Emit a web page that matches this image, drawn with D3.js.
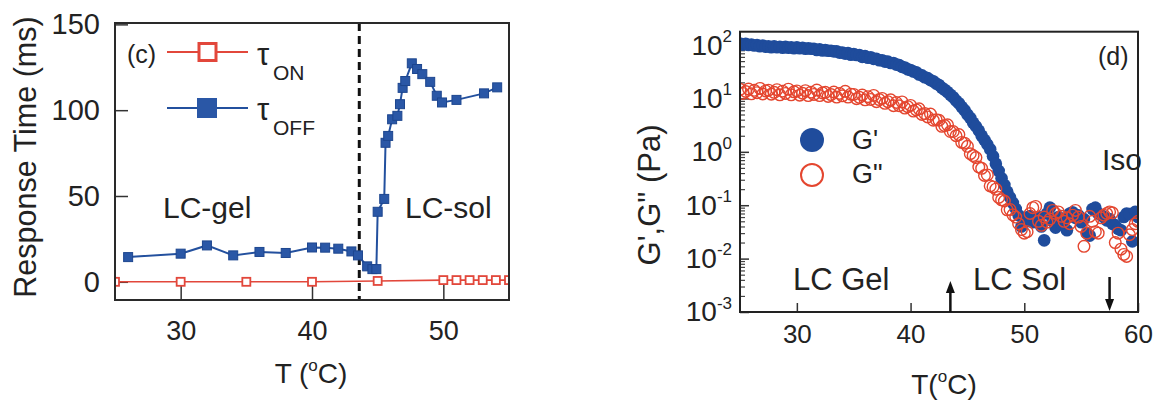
<!DOCTYPE html>
<html>
<head>
<meta charset="utf-8">
<script src="https://cdn.jsdelivr.net/npm/d3@7"></script>
<style>
body { margin: 0; background: #fff; }
text { font-family: "Liberation Sans", Arial, sans-serif; fill: #222; }
</style>
</head>
<body>
<script>
// ---- panel (c): response times ----
const onTemps = [25, 30, 35, 40, 45, 50, 51, 52, 53, 54, 55];
const onTimes = [0, 0, 0, 0, 0.5, 1, 1, 1, 1, 1, 1];

const offTemps = [26, 30, 32, 34, 36, 38, 40, 41, 42, 43, 43.5, 44.2, 44.6, 44.9, 45.0, 45.5, 45.6, 45.8,
    46.1, 46.5, 46.7, 46.9, 47.1, 47.6, 48.0, 48.4, 49.0, 49.5, 49.9, 51.0, 53.1, 54.1];
const offTimes = [14.4, 16.4, 21.2, 15.4, 17.4, 16.8, 20, 19.9, 19.3, 17.7, 15.4, 9, 7.4, 7.4, 40.8, 48.3, 81, 85,
    94.7, 96.7, 103.5, 113, 117, 127.3, 124, 121, 116.5, 108.4, 104.5, 106, 109.8, 113.3];

const responseTicks = [0, 50, 100, 150];
const tempTicksC = [30, 40, 50];
const gelSolT = 43.6;

// ---- panel (d): G' and G'' ----
const rheoTemps = [
    25, 25.25, 25.5, 25.75, 26, 26.25, 26.5, 26.75, 27, 27.25,
    27.5, 27.75, 28, 28.25, 28.5, 28.75, 29, 29.25, 29.5, 29.75,
    30, 30.25, 30.5, 30.75, 31, 31.25, 31.5, 31.75, 32, 32.25,
    32.5, 32.75, 33, 33.25, 33.5, 33.75, 34, 34.25, 34.5, 34.75,
    35, 35.25, 35.5, 35.75, 36, 36.25, 36.5, 36.75, 37, 37.25,
    37.5, 37.75, 38, 38.25, 38.5, 38.75, 39, 39.25, 39.5, 39.75,
    40, 40.25, 40.5, 40.75, 41, 41.25, 41.5, 41.75, 42, 42.25,
    42.5, 42.75, 43, 43.25, 43.5, 43.75, 44, 44.25, 44.5, 44.75,
    45, 45.25, 45.5, 45.75, 46, 46.25, 46.5, 46.75, 47, 47.25,
    47.5, 47.75, 48, 48.25, 48.5, 48.75, 49,
    49.25, 49.5, 49.75, 50, 50.25, 50.5, 50.75, 51, 51.25, 51.5,
    51.75, 52, 52.25, 52.5, 52.75, 53, 53.25, 53.5, 53.75, 54,
    54.25, 54.5, 54.75, 55, 55.25, 55.5, 55.75, 56, 56.25, 56.5,
    56.75, 57, 57.25, 57.5, 57.75, 58, 58.25, 58.5, 58.75, 59,
    59.25, 59.5, 59.75, 60
];
const storageMod = [
    107, 102, 105, 100, 102, 98, 100, 95, 98, 93,
    95, 91, 95, 91, 93, 89, 93, 89, 91, 87,
    91, 87, 89, 85, 87, 85, 85, 81, 83, 79,
    81, 78, 78, 76, 76, 72, 72, 69, 71, 66,
    68, 65, 65, 60, 62, 58, 59, 55, 55, 52,
    52, 49, 49, 46, 46, 43, 42, 39, 38, 35,
    34, 32, 31, 28, 27, 25, 24, 22, 21, 19,
    17.8, 15.8, 14.5, 13.2, 11.7, 10.5, 9.1, 8.1, 6.9, 6.0,
    5.0, 4.3, 3.5, 3.0, 2.5, 2.0, 1.66, 1.38, 1.12, 0.83,
    0.60, 0.44, 0.32, 0.24, 0.18, 0.14, 0.11,
    0.085, 0.065, 0.040, 0.058, 0.050, 0.063, 0.048, 0.055, 0.060, 0.040,
    0.022, 0.070, 0.090, 0.050, 0.038, 0.060, 0.045, 0.052, 0.034, 0.070,
    0.074, 0.058, 0.065, 0.048, 0.055, 0.030, 0.027, 0.085, 0.090, 0.070,
    0.066, 0.060, 0.052, 0.055, 0.045, 0.042, 0.036, 0.034, 0.060, 0.070,
    0.068, 0.021, 0.075, 0.060
];
const lossMod = [
    14.8, 12.4, 13.5, 15.0, 12.2, 14.2, 12.8, 15.4, 12.1, 13.8,
    14.3, 12.0, 13.0, 14.6, 11.7, 13.7, 12.4, 14.9, 11.7, 13.3,
    13.8, 11.5, 12.5, 14.0, 11.3, 13.1, 11.9, 14.4, 11.3, 12.7,
    13.0, 10.9, 11.8, 13.2, 10.6, 12.4, 11.2, 13.6, 10.6, 12.0,
    11.9, 9.9, 10.5, 11.6, 9.4, 10.8, 9.6, 11.4, 8.7, 9.5,
    10.0, 8.1, 8.7, 9.4, 7.3, 8.4, 7.3, 8.6, 6.6, 7.0,
    7.4, 5.8, 6.1, 6.4, 5.0, 5.2, 4.5, 5.1, 3.9, 4.0,
    3.9, 3.0, 3.1, 3.2, 2.4, 2.4, 2.0, 2.1, 1.5, 1.45,
    1.27, 0.92, 0.85, 0.78, 0.52, 0.49, 0.36, 0.37, 0.23, 0.22,
    0.20, 0.14, 0.126, 0.12, 0.082, 0.083, 0.066,
    0.060, 0.045, 0.035, 0.030, 0.032, 0.070, 0.090, 0.095, 0.050, 0.042,
    0.060, 0.048, 0.055, 0.080, 0.070, 0.075, 0.062, 0.050, 0.058, 0.045,
    0.065, 0.080, 0.060, 0.040, 0.017, 0.030, 0.062, 0.050, 0.032, 0.030,
    0.058, 0.065, 0.070, 0.075, 0.072, 0.020, 0.030, 0.015, 0.012, 0.011,
    0.028, 0.035, 0.045, 0.050
];

const tempTicksD = [30, 40, 50, 60];
const decadeTicks = [1e-3, 1e-2, 1e-1, 1, 10, 100];
const decadeExp = ["-3", "-2", "-1", "0", "1", "2"];
const isoT = 57.5;

const red = "#e2473b", blue = "#23509e";

const svg = d3.select("body").append("svg")
    .attr("width", 1157)
    .attr("height", 400);

// ======== left panel ========
{
    const L = 115, R = 509, T = 23, B = 300;
    const x = d3.scaleLinear().domain([25, 55]).range([L, R]);
    const y = d3.scaleLinear().domain([-10.6, 150.8]).range([B, T]);

    svg.append("clipPath").attr("id", "clipC")
        .append("rect").attr("x", L).attr("y", T).attr("width", R - L).attr("height", B - T);

    const xAxis = svg.append("g")
        .attr("transform", `translate(0,${B})`)
        .call(d3.axisBottom(x).tickValues(tempTicksC).tickSize(-15).tickPadding(21));
    const yAxis = svg.append("g")
        .attr("transform", `translate(${L},0)`)
        .call(d3.axisLeft(y).tickValues(responseTicks).tickSize(-13).tickPadding(15));

    for(const ax of [xAxis, yAxis])
    {
        ax.select(".domain").remove();
        ax.selectAll(".tick line").attr("stroke", "#333").attr("stroke-width", 1.5);
        ax.selectAll(".tick text").attr("fill", "#222").style("font-family", "Liberation Sans, Arial, sans-serif");
    }
    xAxis.selectAll(".tick text").attr("font-size", 27);
    yAxis.selectAll(".tick text").attr("font-size", 29);

    // gel-sol boundary
    svg.append("line")
        .attr("x1", x(gelSolT)).attr("x2", x(gelSolT))
        .attr("y1", T).attr("y2", B)
        .attr("stroke", "#111").attr("stroke-width", 3)
        .attr("stroke-dasharray", "8,5");

    const data = svg.append("g").attr("clip-path", "url(#clipC)");

    const onPts = onTemps.map((t, i) => [t, onTimes[i]]);
    const offPts = offTemps.map((t, i) => [t, offTimes[i]]);
    const line = d3.line().x(d => x(d[0])).y(d => y(d[1]));

    data.append("path").datum(onPts)
        .attr("d", line).attr("fill", "none").attr("stroke", red).attr("stroke-width", 1.6);
    data.append("path").datum(offPts)
        .attr("d", line).attr("fill", "none").attr("stroke", blue).attr("stroke-width", 2);

    data.selectAll("rect.on").data(onPts).join("rect")
        .attr("class", "on")
        .attr("x", d => x(d[0]) - 4).attr("y", d => y(d[1]) - 4)
        .attr("width", 8).attr("height", 8)
        .attr("fill", "#fff").attr("stroke", red).attr("stroke-width", 1.8);

    data.selectAll("rect.off").data(offPts).join("rect")
        .attr("class", "off")
        .attr("x", d => x(d[0]) - 4.5).attr("y", d => y(d[1]) - 4.5)
        .attr("width", 9).attr("height", 9)
        .attr("fill", "#2a57a6").attr("stroke", "#1d468f").attr("stroke-width", 1);

    svg.append("rect")
        .attr("x", L).attr("y", T).attr("width", R - L).attr("height", B - T)
        .attr("fill", "none").attr("stroke", "#2a2a2a").attr("stroke-width", 2);

    // legend
    svg.append("text").attr("x", 127).attr("y", 63).attr("font-size", 25).text("(c)");
    svg.append("line").attr("x1", 167).attr("x2", 248).attr("y1", 52).attr("y2", 52)
        .attr("stroke", red).attr("stroke-width", 2);
    svg.append("rect").attr("x", 199).attr("y", 43.5).attr("width", 17).attr("height", 17)
        .attr("fill", "#fff").attr("stroke", red).attr("stroke-width", 3);
    svg.append("line").attr("x1", 167).attr("x2", 248).attr("y1", 108).attr("y2", 108)
        .attr("stroke", blue).attr("stroke-width", 2);
    svg.append("rect").attr("x", 197).attr("y", 98).attr("width", 20).attr("height", 20)
        .attr("fill", "#2a57a6");

    svg.append("text").attr("x", 257).attr("y", 65).attr("font-size", 31).text("τ");
    svg.append("text").attr("x", 273).attr("y", 80).attr("font-size", 21).text("ON");
    svg.append("text").attr("x", 257).attr("y", 120).attr("font-size", 31).text("τ");
    svg.append("text").attr("x", 273).attr("y", 135).attr("font-size", 21).text("OFF");

    svg.append("text").attr("x", 163).attr("y", 218).attr("font-size", 30).text("LC-gel");
    svg.append("text").attr("x", 405).attr("y", 218).attr("font-size", 30).text("LC-sol");

    svg.append("text")
        .attr("transform", "translate(36,157) rotate(-90)")
        .attr("text-anchor", "middle").attr("font-size", 30.5)
        .text("Response Time (ms)");

    const xt = svg.append("text").attr("x", 311).attr("y", 383)
        .attr("text-anchor", "middle").attr("font-size", 28);
    xt.append("tspan").text("T (");
    xt.append("tspan").attr("font-size", 17).attr("dy", -12).text("o");
    xt.append("tspan").attr("dy", 12).text("C)");
}

// ======== right panel ========
{
    const L = 740, R = 1138, T = 31.7, B = 312;
    const x = d3.scaleLinear().domain([25, 60]).range([L, R]);
    const y = d3.scaleLog().domain([1e-3, 177.8]).range([B, T]);

    svg.append("clipPath").attr("id", "clipD")
        .append("rect").attr("x", L).attr("y", T).attr("width", R - L).attr("height", B - T);

    const xAxis = svg.append("g")
        .attr("transform", `translate(0,${B})`)
        .call(d3.axisBottom(x).tickValues(tempTicksD).tickSize(-9).tickPadding(13));
    xAxis.select(".domain").remove();
    xAxis.selectAll(".tick line").attr("stroke", "#333").attr("stroke-width", 1.5);
    xAxis.selectAll(".tick text").attr("font-size", 26).attr("fill", "#222")
        .style("font-family", "Liberation Sans, Arial, sans-serif");

    // minor log ticks
    const minor = svg.append("g")
        .attr("transform", `translate(${L},0)`)
        .call(d3.axisLeft(y).tickValues(y.ticks().filter(v => !decadeTicks.includes(v))).tickSize(-5).tickFormat(""));
    minor.select(".domain").remove();
    minor.selectAll(".tick line").attr("stroke", "#444").attr("stroke-width", 1.2);

    const yAxis = svg.append("g")
        .attr("transform", `translate(${L},0)`)
        .call(d3.axisLeft(y).tickValues(decadeTicks).tickSize(-9).tickPadding(8));
    yAxis.select(".domain").remove();
    yAxis.selectAll(".tick line").attr("stroke", "#333").attr("stroke-width", 1.5);
    yAxis.selectAll(".tick text")
        .attr("font-size", 28).attr("fill", "#222")
        .style("font-family", "Liberation Sans, Arial, sans-serif")
        .text("10")
        .append("tspan")
        .attr("font-size", 17).attr("dy", "-0.75em")
        .text((d, i) => decadeExp[i]);

    const data = svg.append("g").attr("clip-path", "url(#clipD)");

    const gp = rheoTemps.map((t, i) => [t, storageMod[i]]);
    const gpp = rheoTemps.map((t, i) => [t, lossMod[i]]);

    data.selectAll("circle.gp").data(gp).join("circle")
        .attr("class", "gp")
        .attr("cx", d => x(d[0])).attr("cy", d => y(d[1])).attr("r", 6.3)
        .attr("fill", "#1f4c9c");

    data.selectAll("circle.gpp").data(gpp).join("circle")
        .attr("class", "gpp")
        .attr("cx", d => x(d[0])).attr("cy", d => y(d[1])).attr("r", 5.8)
        .attr("fill", "none").attr("stroke", "#e4462f").attr("stroke-width", 1.4);

    svg.append("rect")
        .attr("x", L).attr("y", T).attr("width", R - L).attr("height", B - T)
        .attr("fill", "none").attr("stroke", "#222").attr("stroke-width", 2);

    // transition arrows
    const arrow = (t, y1, y2) => {
        const ax = x(t);
        const dir = y2 < y1 ? -1 : 1;
        svg.append("line").attr("x1", ax).attr("x2", ax).attr("y1", y1).attr("y2", y2 - dir * 8)
            .attr("stroke", "#111").attr("stroke-width", 2.5);
        svg.append("path")
            .attr("d", `M${ax},${y2} L${ax - 4.5},${y2 - dir * 12} L${ax + 4.5},${y2 - dir * 12} Z`)
            .attr("fill", "#111");
    };
    arrow(gelSolT - 0.1, B, 281);
    arrow(isoT, 277, B - 1);

    svg.append("text").attr("x", 1098).attr("y", 65).attr("font-size", 25).text("(d)");
    svg.append("text").attr("x", 1102).attr("y", 170).attr("font-size", 30).text("Iso");
    svg.append("text").attr("x", 793).attr("y", 290).attr("font-size", 31).text("LC Gel");
    svg.append("text").attr("x", 973).attr("y", 290).attr("font-size", 31).text("LC Sol");

    // legend
    svg.append("circle").attr("cx", 812).attr("cy", 140).attr("r", 12).attr("fill", "#1f4c9c");
    svg.append("circle").attr("cx", 812).attr("cy", 175).attr("r", 11)
        .attr("fill", "none").attr("stroke", "#e4462f").attr("stroke-width", 2);
    svg.append("text").attr("x", 852).attr("y", 149).attr("font-size", 27).text("G'");
    svg.append("text").attr("x", 852).attr("y", 183).attr("font-size", 27).text("G\"");

    svg.append("text")
        .attr("transform", "translate(660,195) rotate(-90)")
        .attr("text-anchor", "middle").attr("font-size", 31)
        .text("G',G\" (Pa)");

    const xt = svg.append("text").attr("x", 944).attr("y", 394)
        .attr("text-anchor", "middle").attr("font-size", 28);
    xt.append("tspan").text("T(");
    xt.append("tspan").attr("font-size", 17).attr("dy", -12).text("o");
    xt.append("tspan").attr("dy", 12).text("C)");
}
</script>
</body>
</html>
